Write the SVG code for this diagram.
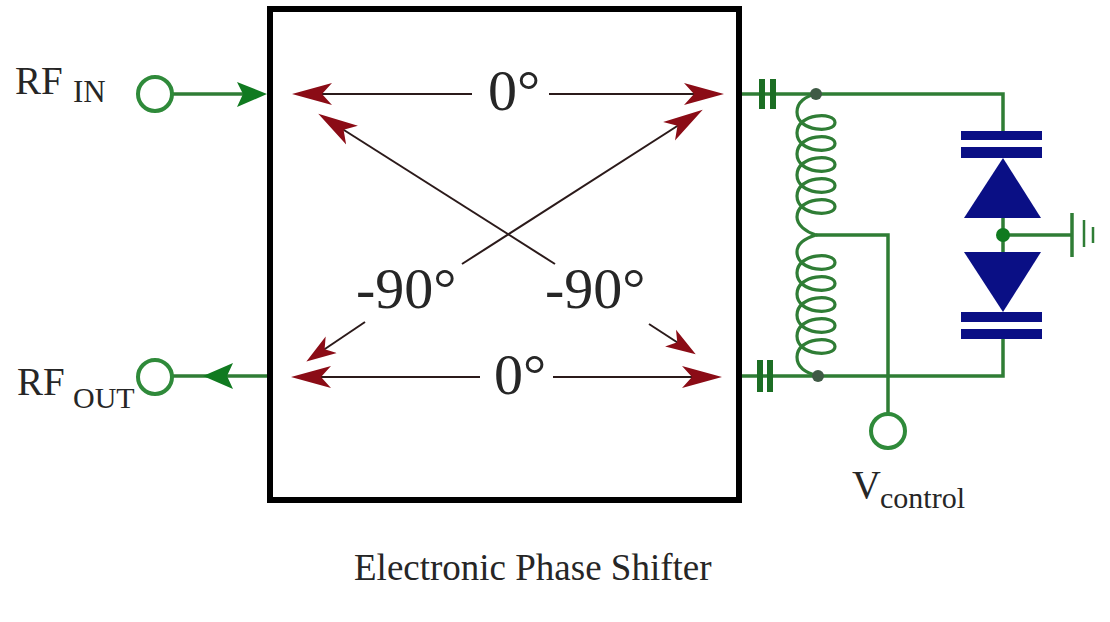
<svg xmlns="http://www.w3.org/2000/svg" width="1110" height="622" viewBox="0 0 1110 622">
<style>
.t{font-family:"Liberation Serif","Times New Roman",serif;fill:#262626}
.w{fill:none;stroke:#2f7d35;stroke-width:3.5}
.port{fill:#fff;stroke:#2f8a3a;stroke-width:4}
.cap{fill:#1c6e24}
.blue{fill:#0a0f85}
.r{fill:none;stroke:#2b1a1a;stroke-width:2}
.big{font-size:58px}
.j{fill:#3f5a45}
</style>
<defs>
<marker id="ra" markerUnits="userSpaceOnUse" markerWidth="44" markerHeight="24" viewBox="0 -12 44 24" refX="32" refY="0" orient="auto"><polygon points="0,-11 10,0 0,11 40,0" fill="#8b0c16"/></marker>
<marker id="rs" markerUnits="userSpaceOnUse" markerWidth="34" markerHeight="22" viewBox="0 -11 34 22" refX="22" refY="0" orient="auto"><polygon points="0,-10 8,0 0,10 30,0" fill="#8b0c16"/></marker>
</defs>
<rect width="1110" height="622" fill="#fff"/>
<g id="connectors">
<path class="w" d="M173 94H245"/>
<polygon points="267,94 237,82 243,94 237,107" fill="#107a20"/>
<path class="w" d="M173 376H268"/>
<polygon points="203,376 233,363 227,376 233,389" fill="#107a20"/>
<path class="w" d="M741 94H1003V131"/>
<path class="w" d="M741 376H1003V339"/>
<path class="w" d="M816 235H888V414"/>
<path class="w" d="M1003 218V252"/>
<path class="w" d="M1003 235H1072"/>
<g id="phase-arrows">
<path class="r" marker-end="url(#ra)" d="M472 94H300"/>
<path class="r" marker-end="url(#ra)" d="M549 94H716"/>
<path class="r" marker-end="url(#ra)" d="M480 377H299"/>
<path class="r" marker-end="url(#ra)" d="M553 377H714"/>
<path class="r" marker-end="url(#ra)" d="M555 264L325 118"/>
<path class="r" marker-end="url(#ra)" d="M462 264L696 114"/>
<path class="r" marker-end="url(#rs)" d="M365 322L313 357"/>
<path class="r" marker-end="url(#rs)" d="M649 324L689 350"/>
</g>
</g>
<g id="phase-shifter-box"><rect x="270" y="9" width="469" height="491" fill="none" stroke="#000" stroke-width="6"/></g>
<g id="rf-in"><circle class="port" cx="155" cy="94" r="17"/><text class="t" x="15" y="94" font-size="39">RF</text><text class="t" x="73" y="102" font-size="31">IN</text></g>
<g id="rf-out"><circle class="port" cx="155" cy="377" r="17"/><text class="t" x="17" y="395" font-size="39">RF</text><text class="t" x="73" y="408" font-size="30">OUT</text></g>
<g id="v-control"><circle class="port" cx="888" cy="431" r="17"/><text class="t" x="852" y="498" font-size="40">V</text><text class="t" x="880" y="508" font-size="30">control</text></g>
<g id="label-0-top"><text class="t big" x="488" y="110">0°</text></g>
<g id="label-0-bottom"><text class="t big" x="494" y="394">0°</text></g>
<g id="label-90-left"><text class="t big" x="356" y="308">-90°</text></g>
<g id="label-90-right"><text class="t big" x="545" y="308">-90°</text></g>
<g id="capacitor-top"><rect class="cap" x="759" y="79" width="6" height="30"/><rect class="cap" x="770" y="79" width="6" height="30"/></g>
<g id="capacitor-bottom"><rect class="cap" x="757" y="360" width="6" height="32"/><rect class="cap" x="767" y="360" width="6" height="32"/></g>
<g id="inductor">
<path fill="none" stroke="#2f7d35" stroke-width="3.2" d="M816 94C806 96 797 102 797 112
c0 20 38 21.5 38 10.500c0 -11 -38 -9.500 -38 10.500
c0 20 38 21.5 38 10.500c0 -11 -38 -9.500 -38 10.500
c0 20 38 21.5 38 10.500c0 -11 -38 -9.500 -38 10.500
c0 20 38 21.5 38 10.500c0 -11 -38 -9.500 -38 10.500
c0 20 38 21.5 38 10.500c0 -11 -38 -9.500 -38 10.500
C797 225 806 232 816 235C806 238 797 243 797 252
c0 20 38 21.5 38 10.500c0 -11 -38 -9.500 -38 10.500
c0 20 38 21.5 38 10.500c0 -11 -38 -9.500 -38 10.500
c0 20 38 21.5 38 10.500c0 -11 -38 -9.500 -38 10.500
c0 20 38 21.5 38 10.500c0 -11 -38 -9.500 -38 10.500
c0 20 38 21.5 38 10.500c0 -11 -38 -9.500 -38 10.500
C797 367 806 373 818 376"/>
<circle class="j" cx="816" cy="94" r="6"/><circle class="j" cx="818" cy="376" r="6"/>
</g>
<g id="varactor-top"><rect class="blue" x="961" y="131" width="81" height="9"/><rect class="blue" x="961" y="147" width="81" height="11"/><polygon class="blue" points="1003,158 964,218 1041,218"/></g>
<g id="varactor-bottom"><polygon class="blue" points="1003,312 964,252 1041,252"/><rect class="blue" x="961" y="312" width="81" height="10"/><rect class="blue" x="961" y="329" width="81" height="10"/></g>
<g id="junction"><circle cx="1003" cy="235" r="7" fill="#107a20"/></g>
<g id="ground"><path class="w" d="M1072 213V257"/><path class="w" style="stroke-width:2.5" d="M1084 220V247M1093 227V243"/></g>
<g id="caption"><text class="t" x="354" y="580" font-size="37">Electronic Phase Shifter</text></g>
</svg>
